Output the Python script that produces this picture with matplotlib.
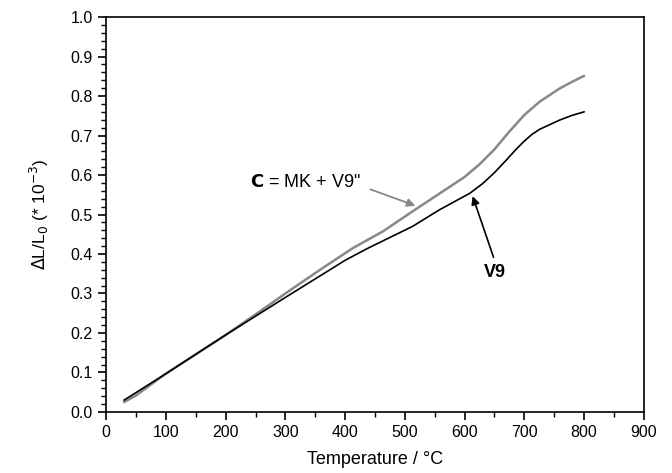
import numpy as np
import matplotlib.pyplot as plt
from matplotlib.ticker import MultipleLocator

plt.rcParams['font.family'] = ['Liberation Sans', 'DejaVu Sans']

# sample C = MK + V9''
temp_c = [30, 50, 100, 150, 200, 250, 300, 358, 413, 463, 513, 558, 600,
          625, 650, 675, 700, 726, 759, 780, 800]
dl_c = [0.025, 0.042, 0.097, 0.146, 0.195, 0.247, 0.300, 0.360, 0.415,
        0.457, 0.508, 0.553, 0.595, 0.627, 0.665, 0.710, 0.752, 0.786,
        0.819, 0.836, 0.851]

# sample V9
temp_v9 = [30, 100, 200, 300, 400, 436, 513, 558, 609, 630, 650, 670, 685,
           698, 712, 726, 759, 780, 800]
dl_v9 = [0.030, 0.097, 0.195, 0.290, 0.384, 0.413, 0.470, 0.512, 0.554,
         0.578, 0.606, 0.638, 0.663, 0.683, 0.702, 0.716, 0.739, 0.751,
         0.760]

fig = plt.figure(figsize=(6.72, 4.73), dpi=100)
ax = fig.add_axes([0.158, 0.129, 0.800, 0.835])

ax.plot(temp_c, dl_c, color='#888888', lw=1.8, solid_capstyle='round')
ax.plot(temp_v9, dl_v9, color='black', lw=1.2)

ax.set_xlim(0, 900)
ax.set_ylim(0, 1.0)
ax.xaxis.set_major_locator(MultipleLocator(100))
ax.xaxis.set_minor_locator(MultipleLocator(50))
ax.yaxis.set_major_locator(MultipleLocator(0.1))
ax.yaxis.set_minor_locator(MultipleLocator(0.02))
ax.yaxis.set_major_formatter(plt.FormatStrFormatter('%.1f'))
ax.tick_params(which='major', direction='out', length=6, width=1.2, labelsize=11.5)
ax.tick_params(which='minor', direction='out', length=3.5, width=1)
for s in ax.spines.values():
    s.set_linewidth(1.2)

ax.set_xlabel('Temperature / °C', fontsize=13, labelpad=8)
ax.set_ylabel(r'$\Delta$L/L$_0$ (* 10$^{-3}$)', fontsize=12.5, labelpad=14)

ax.annotate('', xy=(522, 0.52), xytext=(438, 0.566),
            arrowprops=dict(arrowstyle='-|>', color='#888888', lw=1.3,
                            mutation_scale=12))
ax.text(240, 0.58, r'$\bf{C}$ = MK + V9"', fontsize=13, va='center', ha='left')

ax.annotate('', xy=(612, 0.553), xytext=(650, 0.385),
            arrowprops=dict(arrowstyle='-|>', color='black', lw=1.2,
                            mutation_scale=12))
ax.text(650, 0.353, 'V9', fontsize=13, fontweight='bold', ha='center', va='center')

fig.savefig('out.png')
